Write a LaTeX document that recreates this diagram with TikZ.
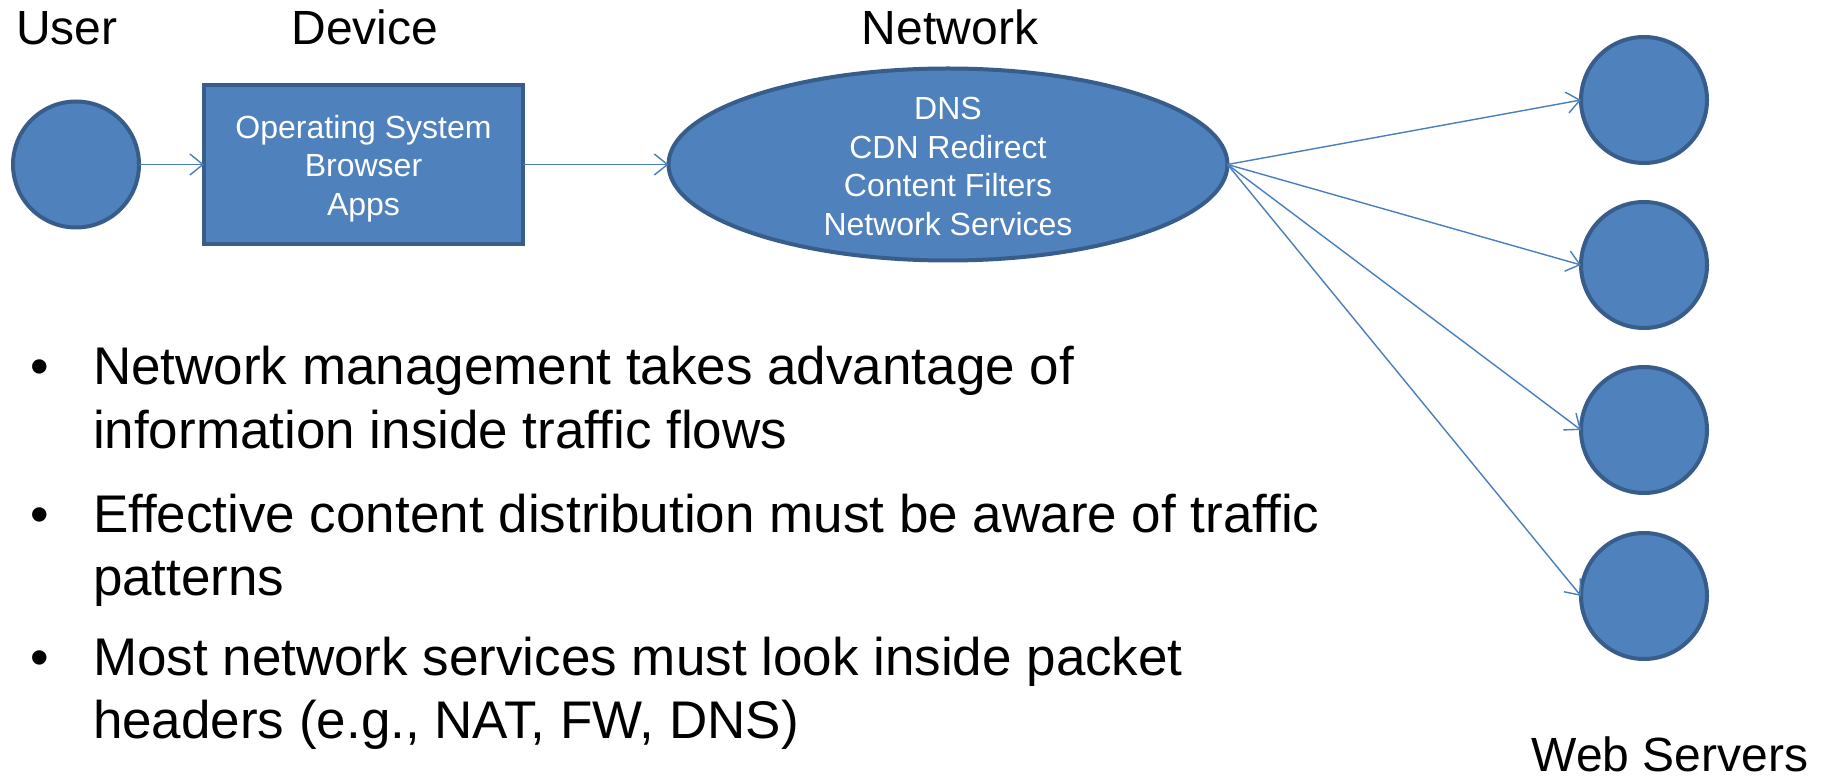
\documentclass[tikz,border=0pt]{standalone}
\usepackage{fontspec}
\setmainfont{Liberation Sans}
\usetikzlibrary{arrows.meta,shapes.geometric}
\definecolor{shapefill}{HTML}{4F81BD}
\definecolor{shapeedge}{HTML}{385D8A}
\definecolor{linec}{HTML}{4A7EBB}
\tikzset{
  every node/.style={inner sep=0pt, outer sep=0pt},
  blob/.style={circle, fill=shapefill, draw=shapeedge, line width=4pt, minimum size=126pt},
  devbox/.style={rectangle, fill=shapefill, draw=shapeedge, line width=4pt, minimum width=319pt, minimum height=159pt},
  netshape/.style={ellipse, fill=shapefill, draw=shapeedge, line width=4pt, minimum width=559pt, minimum height=192pt},
  intext/.style={text=white, align=center, font=\fontsize{32}{38.5}\selectfont},
  toplabel/.style={anchor=base, font=\fontsize{48}{56}\selectfont},
  bodyline/.style={anchor=base west, font=\fontsize{53}{63}\selectfont},
  bulletmark/.style={anchor=base, font=\fontsize{53}{63}\selectfont},
  flow/.style={draw=linec, line width=1.4pt, -{Straight Barb[length=13pt,width=21pt,line width=1.4pt]}}
}
\begin{document}
\begin{tikzpicture}[x=1pt,y=-1pt]
\useasboundingbox (0,0) rectangle (1829,783);
% top labels
\node[toplabel] (lbluser) at (67,45) {User};
\node[toplabel] (lbldev) at (365,45) {Device};
\node[toplabel] (lblnet) at (950,45) {Network};
% user, device, network
\node[blob] (user) at (76,164.5) {};
\node[devbox] (dev) at (363.5,164.5) {};
\node[intext] (devtext) at ([yshift=-4pt]dev.center) {Operating System\\Browser\\Apps};
\node[netshape] (net) at (948,164.5) {};
\node[intext] (nettext) at ([yshift=-2pt]net.center) {DNS\\CDN Redirect\\Content Filters\\Network Services};
% servers
\node[blob] (s1) at (1644,100) {};
\node[blob] (s2) at (1644,265) {};
\node[blob] (s3) at (1644,430) {};
\node[blob] (s4) at (1644,596) {};
\node[toplabel] (lblweb) at (1670,771) {Web Servers};
% connectors
\draw[flow] (user.east) -- (dev.west);
\draw[flow] (dev.east) -- (net.west);
\draw[flow] (net.east) -- (s1.west);
\draw[flow] (net.east) -- (s2.west);
\draw[flow] (net.east) -- (s3.west);
\draw[flow] (net.east) -- (s4.west);
% bullets
\node[bulletmark] (b1) at (40,385) {\textbullet};
\node[bodyline] (t1a) at (93,385) {Network management takes advantage of};
\node[bodyline] (t1b) at (93,449) {information inside traffic flows};
\node[bulletmark] (b2) at (40,532) {\textbullet};
\node[bodyline] (t2a) at (93,532) {Effective content distribution must be aware of traffic};
\node[bodyline] (t2b) at (93,595) {patterns};
\node[bulletmark] (b3) at (40,675) {\textbullet};
\node[bodyline] (t3a) at (93,675) {Most network services must look inside packet};
\node[bodyline] (t3b) at (93,738) {headers (e.g., NAT, FW, DNS)};
\end{tikzpicture}
\end{document}
